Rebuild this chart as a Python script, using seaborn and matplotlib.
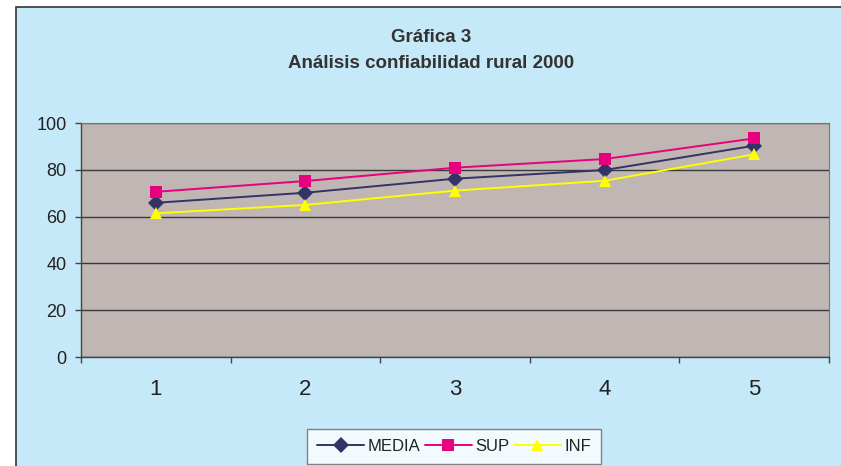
import numpy as np
import pandas as pd
import matplotlib
matplotlib.use("Agg")
import matplotlib.pyplot as plt
import matplotlib.patches as mpatches
import seaborn as sns

categories = [1, 2, 3, 4, 5]
media = [65.9, 70.2, 76.2, 79.9, 90.3]
sup = [70.6, 75.2, 80.9, 84.6, 93.4]
inf = [61.4, 65.0, 71.1, 75.3, 86.6]
series_names = ["MEDIA", "SUP", "INF"]
title_lines = ["Gráfica 3", "Análisis confiabilidad rural 2000"]

df = pd.DataFrame({
    "x": categories * 3,
    "valor": media + sup + inf,
    "serie": ["MEDIA"] * 5 + ["SUP"] * 5 + ["INF"] * 5,
})

sns.set_theme(style="white")
plt.rcParams["font.family"] = ["Liberation Sans", "DejaVu Sans"]

W, H = 841, 466
fig = plt.figure(figsize=(W / 100, H / 100), dpi=100)
fig.patch.set_facecolor("white")

# chart-area background with border
bg = mpatches.Rectangle((16 / W, -0.01), (W - 16) / W + 0.01, (H - 7) / H + 0.01,
                        transform=fig.transFigure, facecolor="#C6E9F9",
                        edgecolor="#333333", linewidth=1.2, zorder=-5)
fig.patches.append(bg)

left, right, top, bottom = 81, 829, 123, 357
ax = fig.add_axes([left / W, 1 - bottom / H, (right - left) / W, (bottom - top) / H])
ax.set_zorder(2)
ax.set_facecolor("#C0B6B3")

palette = {"MEDIA": "#333366", "SUP": "#E8007E", "INF": "#FFFF00"}
markers = {"MEDIA": "D", "SUP": "s", "INF": "^"}
sns.lineplot(data=df, x="x", y="valor", hue="serie", style="serie",
             hue_order=series_names, style_order=series_names,
             palette=palette, markers=markers, dashes=False,
             markersize=8, linewidth=1.4, markeredgewidth=0,
             ax=ax, legend=True, zorder=3)

ax.set_xlim(0.5, 5.5)
ax.set_ylim(0, 100)
ax.set_yticks(np.arange(0, 101, 20))
ax.yaxis.grid(True, color="#3a3a3a", linewidth=1.0)
ax.xaxis.grid(False)
ax.set_axisbelow(True)

# x: tick marks at category boundaries, labels at centers
ax.set_xticks(np.arange(0.5, 5.6, 1.0))
ax.set_xticklabels([])
ax.set_xticks(categories, minor=True)
ax.set_xticklabels([str(c) for c in categories], minor=True, fontsize=16, color="#222222")
ax.tick_params(axis="x", which="major", direction="out", length=4.5, width=1, color="#444444", bottom=True)
ax.tick_params(axis="x", which="minor", length=0, pad=16)
ax.tick_params(axis="y", direction="out", length=4.5, width=1, color="#444444", left=True,
               labelsize=13, labelcolor="#222222", pad=6)

for s in ["top", "right"]:
    ax.spines[s].set_visible(True)
    ax.spines[s].set_color("#777777")
    ax.spines[s].set_linewidth(0.8)
for s in ["left", "bottom"]:
    ax.spines[s].set_color("#444444")
    ax.spines[s].set_linewidth(1.0)

ax.set_xlabel("")
ax.set_ylabel("")

fig.text(431 / W, 1 - 38 / H, title_lines[0], ha="center", va="center",
         fontsize=13.5, fontweight="bold", color="#333333")
fig.text(431 / W, 1 - 63 / H, title_lines[1], ha="center", va="center",
         fontsize=13.5, fontweight="bold", color="#333333")

handles, labels = ax.get_legend_handles_labels()
ax.get_legend().remove()
leg = fig.legend(handles, labels, loc="upper center",
                 bbox_to_anchor=(454 / W, 1 - 429 / H), ncol=3, frameon=True,
                 fontsize=12, handlelength=2.8, handletextpad=0.2, columnspacing=0.3,
                 borderpad=0.6, borderaxespad=0, fancybox=False, edgecolor="#666666")
leg.get_frame().set_facecolor("white")
leg.get_frame().set_linewidth(1.0)
for t in leg.get_texts():
    t.set_color("#222222")

fig.savefig("out.png", dpi=100, facecolor=fig.get_facecolor())
